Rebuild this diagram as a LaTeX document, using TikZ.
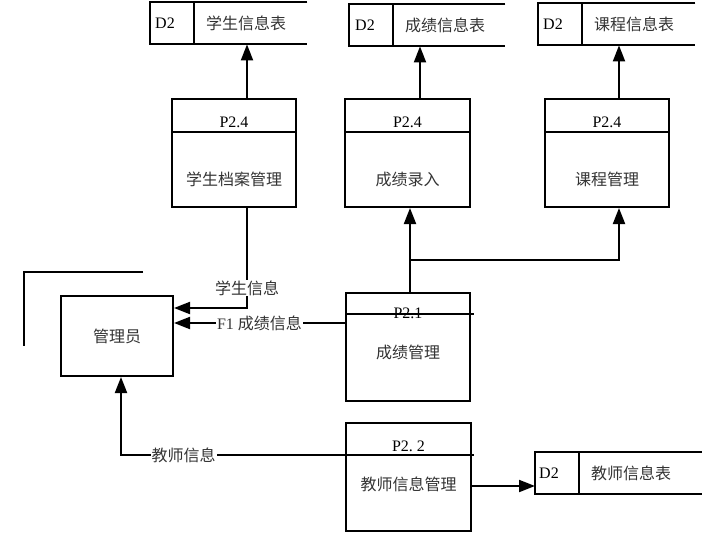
\documentclass[tikz,border=0pt]{standalone}
\usepackage{fontspec}
\setmainfont{Liberation Serif}
\newfontfamily\cjkfont{Noto Sans CJK SC}
\usetikzlibrary{calc,positioning,arrows.meta}
\tikzset{
>={Triangle[length=16pt,width=12pt]},
  procbox/.style={
    rectangle,
    draw=black, line width=2pt,
    minimum width=124pt,
    minimum height=108pt,
    inner sep=0pt},
  storebox/.style={
    rectangle,
    inner sep=0pt,
    minimum width=157pt,
    minimum height=42pt,
    anchor=north west},
  entbox/.style={
    rectangle,
    draw=black, line width=2pt,
    minimum width=112pt,
    minimum height=80pt},
  line/.style={draw, line width=2pt},
  flow/.style={draw, line width=2pt, ->},
  idtext/.style={font=\fontsize{16}{17}\selectfont, inner sep=1pt},
  cntext/.style={font=\fontsize{16}{17}\selectfont\cjkfont, text=black!80, inner sep=1pt},
  flowlabel/.style={cntext, fill=white},
}

\begin{document}
\begin{tikzpicture}[x=1pt, y=-1pt]
  \useasboundingbox (0,0) rectangle (702,549);
  % data stores
  \node (s1) [storebox] at (150,2) {};
  \node (s2) [storebox, minimum width=156pt] at (349,4) {};
  \node (s3) [storebox] at (538,3) {};
  \node (s4) [storebox, minimum width=167pt] at (535,452) {};
  \foreach \s in {s1,s2,s3,s4} {
    \draw[line] (\s.north east) -- (\s.north west) -- (\s.south west) -- (\s.south east);
    \draw[line] ($(\s.north west)+(44,0)$) -- ($(\s.south west)+(44,0)$);
  }
  \node (s1id) [idtext] at ($(s1.west)+(15,0)$) {D2};
  \node (s1name) [cntext] at ($(s1.west)+(96,0)$) {学生信息表};
  \node (s2id) [idtext] at ($(s2.west)+(16,0)$) {D2};
  \node (s2name) [cntext] at ($(s2.west)+(96,0)$) {成绩信息表};
  \node (s3id) [idtext] at ($(s3.west)+(15,0)$) {D2};
  \node (s3name) [cntext] at ($(s3.west)+(96,0)$) {课程信息表};
  \node (s4id) [idtext] at ($(s4.west)+(14,0)$) {D2};
  \node (s4name) [cntext] at ($(s4.west)+(96,0)$) {教师信息表};

  % processes
  \node (p1) [procbox] at (234,153) {};
  \node (p2) [procbox, minimum width=125pt] at (407.5,153) {};
  \node (p3) [procbox] at (607,153) {};
  \node (p21) [procbox] at (408,347) {};
  \node (p22) [procbox, minimum width=125pt] at (408.5,477) {};
  \foreach \p in {p1,p2,p3}
    \draw[line] ($(\p.north west)+(0,34)$) -- ($(\p.north east)+(0,34)$);
  \draw[line] ($(p21.north west)+(0,22)$) -- ($(p21.north east)+(3,22)$);
  \coordinate (p22div) at ($(p22.north west)+(0,33)$);
  \draw[line] (p22div) -- ($(p22.north east)+(2,33)$);

  \node (p1id) [idtext] at ($(p1.north)+(0,24)$) {P2.4};
  \node (p1name) [cntext] at ($(p1.north)+(0,81)$) {学生档案管理};
  \node (p2id) [idtext] at ($(p2.north)+(0,24)$) {P2.4};
  \node (p2name) [cntext] at ($(p2.north)+(0,81)$) {成绩录入};
  \node (p3id) [idtext] at ($(p3.north)+(0,24)$) {P2.4};
  \node (p3name) [cntext] at ($(p3.north)+(0,81)$) {课程管理};
  \node (p21id) [idtext] at ($(p21.north)+(0,21)$) {P2.1};
  \node (p21name) [cntext] at ($(p21.north)+(0,60)$) {成绩管理};
  \node (p22id) [idtext] at ($(p22.north)+(0,24)$) {P2.\ 2};
  \node (p22name) [cntext] at ($(p22.north)+(0,62)$) {教师信息管理};

  % external entity
  \node (mgr) [entbox] at (117,336) {};
  \node (mgrname) [cntext] at (mgr.center) {管理员};
  \draw[line] (143,272) -- (24,272) -- (24,346);

  % flows
  \draw[flow] ([xshift=13pt]p1.north) -- ([xshift=13pt]p1.north |- s1.south);
  \draw[flow] ([xshift=12.5pt]p2.north) -- ([xshift=12.5pt]p2.north |- s2.south);
  \draw[flow] ([xshift=12pt]p3.north) -- ([xshift=12pt]p3.north |- s3.south);
  \draw[flow] ([xshift=2pt]p21.north) -- ([xshift=2pt]p21.north |- p2.south);
  \coordinate (fork) at ($(p21.north)+(2,-32)$);
  \draw[flow] (fork) -| ([xshift=12pt]p3.south);
  \draw[flow] ([xshift=13pt]p1.south) |- ([yshift=28pt]mgr.east)
    node[flowlabel, pos=0.4] {学生信息};
  \draw[flow] ([yshift=24pt]p21.west) -- ([yshift=13pt]mgr.east)
    node[flowlabel, pos=0.5] {\fontsize{16}{17}\rmfamily F1 \cjkfont 成绩信息};
  \draw[flow] (p22div) -| ([xshift=4pt]mgr.south)
    node[flowlabel, pos=0.36] {教师信息};
  \draw[flow] ([yshift=-9pt]p22.east) -- ([yshift=-9pt]p22.east -| s4.west);
\end{tikzpicture}
\end{document}
